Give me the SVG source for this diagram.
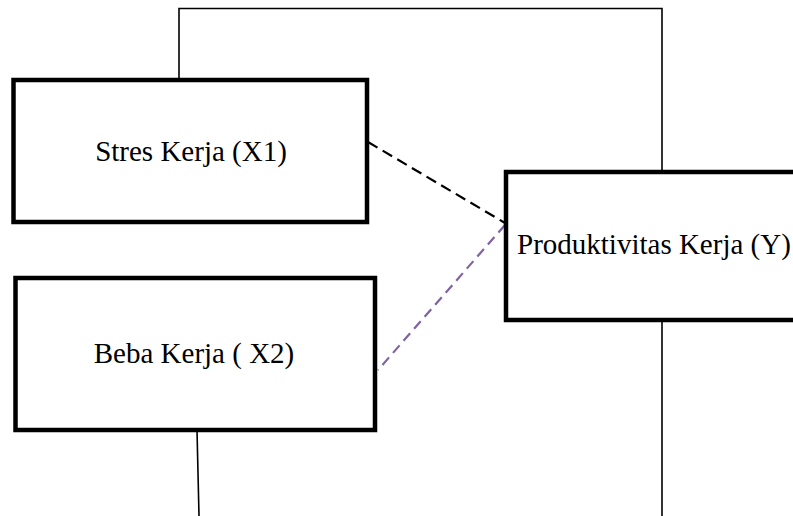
<svg xmlns="http://www.w3.org/2000/svg" width="793" height="516" viewBox="0 0 793 516">
<style>
.box{fill:#fff;stroke:#000;stroke-width:4.5}
.lbl{font-family:"Liberation Serif","Times New Roman",serif;font-size:29px;fill:#000}
.thin{fill:none;stroke:#000;stroke-width:1.6}
</style>
<rect width="793" height="516" fill="#fff"/>
<g id="connectors">
<polyline class="thin" points="179,80 179,8.5 662,8.5 662,172"/>
<line class="thin" x1="197" y1="430" x2="199" y2="516"/>
<line class="thin" x1="662" y1="320" x2="662" y2="516"/>
<line x1="368" y1="142" x2="505" y2="223" stroke="#000" stroke-width="2.2" stroke-dasharray="11,6"/>
<line x1="505" y1="225" x2="378" y2="370" stroke="#8064A2" stroke-width="2.2" stroke-dasharray="10,6"/>
</g>
<g id="node-x1">
<rect class="box" x="13.5" y="80" width="353.5" height="142"/>
<text class="lbl" x="191" y="161" text-anchor="middle">Stres Kerja (X1)</text>
</g>
<g id="node-x2">
<rect class="box" x="15.5" y="278" width="359.5" height="152"/>
<text class="lbl" x="194" y="363" text-anchor="middle">Beba Kerja ( X2)</text>
</g>
<g id="node-y">
<rect class="box" x="506" y="172" width="320" height="148"/>
<text class="lbl" x="517" y="254">Produktivitas Kerja (Y)</text>
</g>
</svg>
